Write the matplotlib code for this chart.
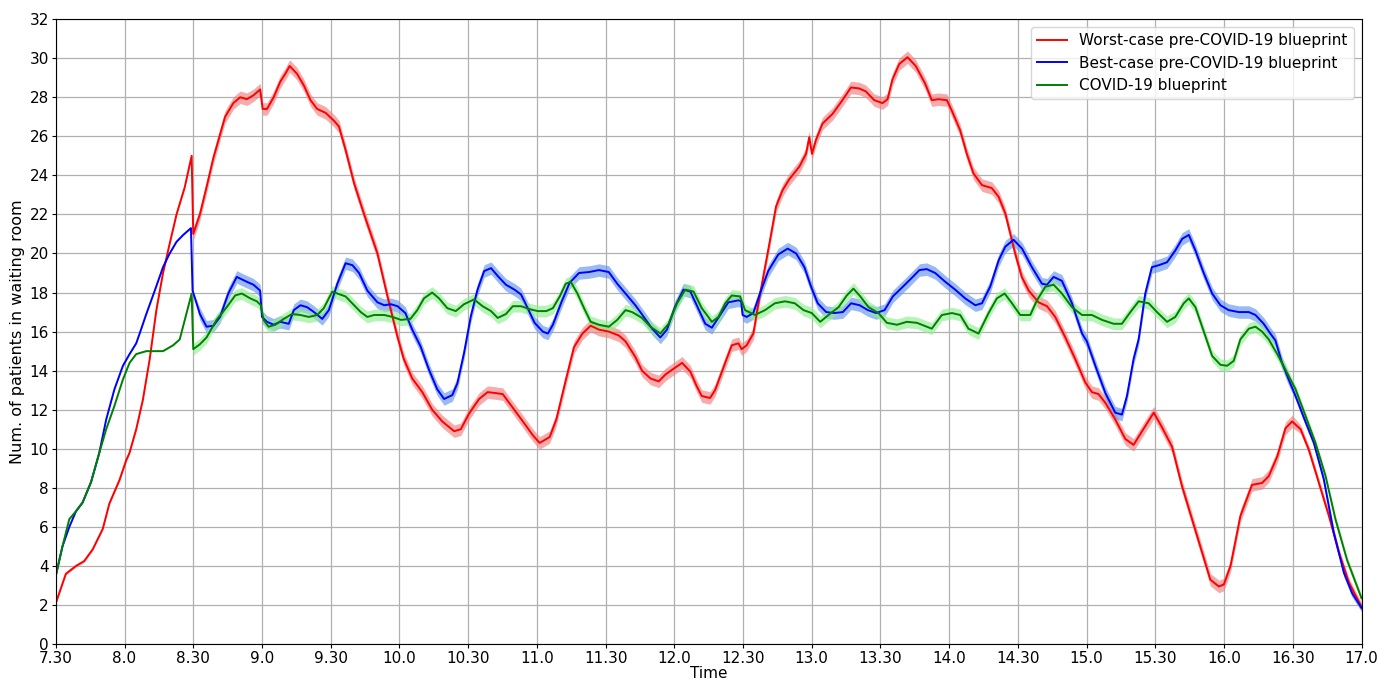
import numpy as np
import matplotlib
matplotlib.use("Agg")
import matplotlib.pyplot as plt

# minutes since 7:30
red_time = [0, 4.4, 8.8, 12.4, 16.1, 20.5, 23.4, 27.8, 30.7, 32.2,
            35.1, 38, 41, 43.9, 46.8, 49.7, 52.7, 56.3, 59.3, 60,
            62.9, 65.8, 68.8, 71.7, 73.9, 77.5, 80.5, 83.4, 86.3, 89.2,
            90.3, 92.2, 95.1, 98, 100.2, 102.1, 105.3, 108.3, 111.2, 114.1,
            117.8, 121.4, 123.6, 126.5, 130.2, 134.6, 140.4, 144.8, 149, 151.9,
            155.6, 160, 164.3, 168.7, 173.9, 176.8, 180.4, 184.8, 188.5, 192.1,
            195.1, 199.5, 203.9, 208.2, 211.2, 215.6, 218.5, 222.6, 226.2, 229.9,
            233.5, 237.1, 241.4, 245.8, 248.7, 253, 255.9, 259.6, 263.2, 266.1,
            269.7, 273.4, 277, 279.8, 282, 285.6, 287.8, 292.2, 295.1, 298,
            299.4, 301.6, 304.5, 307.4, 311.5, 314.4, 317.3, 320.2, 324.6, 327.5,
            328.9, 330.1, 331.8, 334.7, 339.1, 343.4, 347.1, 350.7, 353.6, 357.3,
            360.9, 363.1, 365.2, 368.2, 371.8, 375.4, 379.5, 382.4, 385.3, 389,
            391.2, 394.8, 397.7, 400.6, 404.3, 408.6, 411.6, 414.5, 416.7, 418.8,
            421.7, 424.7, 429, 432.7, 436.3, 440.7, 445, 449.4, 452.3, 455.2,
            458.2, 462.5, 466.9, 470.5, 474.2, 479.3, 482.9, 487.3, 491.6, 496,
            500.4, 504, 507.7, 509.9, 512.8, 517.1, 522.2, 526.6, 529.5, 533.2,
            536.8, 539.7, 543.4, 547, 551.4, 555.8, 560.1, 564.5, 570]
red_count = [2.1, 3.6, 4.0, 4.25, 4.85, 5.9, 7.2, 8.4, 9.4, 9.8,
             11.0, 12.5, 14.6, 17.1, 19.0, 20.5, 22.0, 23.4, 25.0, 21.0,
             22.0, 23.4, 24.9, 26.1, 27.0, 27.7, 28.0, 27.9, 28.1, 28.4,
             27.4, 27.4, 28.0, 28.8, 29.2, 29.6, 29.2, 28.6, 27.85, 27.4,
             27.2, 26.8, 26.5, 25.3, 23.6, 22.0, 20.0, 17.8, 15.8, 14.6,
             13.6, 12.9, 12.0, 11.4, 10.9, 11.0, 11.8, 12.55, 12.9, 12.85,
             12.8, 12.1, 11.4, 10.7, 10.3, 10.6, 11.5, 13.5, 15.2, 15.9,
             16.3, 16.1, 16.0, 15.8, 15.5, 14.7, 14.0, 13.6, 13.45, 13.8,
             14.1, 14.4, 13.95, 13.2, 12.7, 12.6, 13.0, 14.4, 15.3, 15.4,
             15.1, 15.3, 15.9, 17.9, 20.5, 22.4, 23.25, 23.8, 24.45, 25.1,
             25.95, 25.1, 25.8, 26.65, 27.15, 27.85, 28.5, 28.45, 28.3, 27.85,
             27.7, 27.9, 28.9, 29.7, 30.05, 29.6, 28.7, 27.85, 27.9, 27.85,
             27.3, 26.3, 25.1, 24.1, 23.5, 23.35, 22.9, 22.05, 21.0, 20.0,
             18.8, 18.1, 17.5, 17.3, 16.75, 15.7, 14.6, 13.4, 12.9, 12.8,
             12.35, 11.5, 10.5, 10.2, 10.9, 11.85, 11.1, 10.1, 8.1, 6.4,
             4.7, 3.3, 2.95, 3.05, 4.0, 6.55, 8.15, 8.25, 8.6, 9.6,
             11.05, 11.4, 11.0, 9.95, 8.25, 6.55, 4.7, 3.15, 1.9]

blue_time = [0, 2.9, 5.9, 8.8, 11.7, 15.4, 19, 22, 25.6, 29.3,
             32.2, 35.1, 36.6, 39.5, 43.2, 46.8, 49.7, 52.7, 55.6, 59,
             59.7, 62.9, 65.8, 68.8, 71.7, 75.3, 79, 83.4, 86.3, 89.2,
             90, 92.2, 95.1, 98, 101.7, 103.9, 106.8, 109.7, 112.7, 116.3,
             119.2, 122.9, 126.5, 129.5, 132.4, 136, 140.4, 143.4, 146.3, 149.2,
             152.6, 155.6, 159.2, 162.9, 166.5, 169.5, 173.1, 175.3, 178.2, 181.2,
             184.1, 187, 190, 192.9, 196.5, 200.2, 203.1, 206, 209, 212.6,
             214.8, 217, 220.7, 224.3, 228.4, 232.8, 237.1, 241.4, 245.1, 248.7,
             253, 256.7, 260.3, 263.9, 266.8, 270.4, 274, 277, 279.8, 283.5,
             286.4, 290, 293.6, 298, 299.2, 299.8, 301.6, 304.5, 307.4, 311,
             315.4, 319.5, 323.2, 326.8, 329.7, 332.6, 336.3, 339.9, 343.6, 347.2,
             350.9, 354.5, 358.1, 361.8, 365.4, 369.8, 374.1, 377, 380.2, 383.9,
             388.3, 392.6, 397, 401.4, 404.3, 407.9, 411.6, 414.5, 418.1, 421.8,
             426.1, 430.5, 432.7, 435.6, 439.2, 443.6, 448, 450.1, 453.8, 458.2,
             462.5, 465.4, 467.6, 470.5, 472.7, 475.6, 478.5, 481.5, 485.1, 488.7,
             491.7, 494.6, 497.5, 501.1, 504.8, 508.4, 512, 516.4, 520.8, 523.7,
             527.3, 530.2, 532.4, 535.3, 538.2, 541.2, 544.8, 549.2, 553.5, 557.9,
             562.3, 565.9, 570]
blue_count = [3.5, 5.0, 6.0, 6.8, 7.25, 8.3, 9.8, 11.5, 13.05, 14.25,
              14.85, 15.4, 15.9, 16.9, 18.1, 19.3, 20.0, 20.6, 20.95, 21.3,
              18.1, 16.9, 16.25, 16.3, 16.75, 17.95, 18.8, 18.55, 18.4, 18.1,
              16.75, 16.5, 16.35, 16.5, 16.4, 17.1, 17.35, 17.25, 17.0, 16.65,
              17.1, 18.45, 19.5, 19.4, 19.0, 18.1, 17.5, 17.35, 17.4, 17.3,
              16.95, 16.1, 15.25, 14.05, 13.05, 12.55, 12.75, 13.35, 14.9, 16.8,
              18.15, 19.1, 19.25, 18.85, 18.4, 18.15, 17.9, 17.2, 16.45, 16.0,
              15.9, 16.35, 17.5, 18.5, 19.0, 19.05, 19.15, 19.05, 18.45, 17.95,
              17.35, 16.75, 16.15, 15.7, 16.1, 17.3, 18.15, 18.05, 17.35, 16.4,
              16.2, 16.85, 17.5, 17.6, 17.55, 16.85, 16.75, 16.95, 17.95, 19.1,
              19.95, 20.25, 20.0, 19.3, 18.3, 17.45, 17.0, 16.95, 17.0, 17.45,
              17.35, 17.1, 16.95, 17.1, 17.8, 18.3, 18.8, 19.15, 19.2, 19.0,
              18.55, 18.15, 17.7, 17.35, 17.45, 18.3, 19.65, 20.35, 20.7, 20.25,
              19.3, 18.45, 18.4, 18.8, 18.6, 17.45, 15.9, 15.5, 14.25, 12.85,
              11.85, 11.75, 12.7, 14.6, 15.6, 17.95, 19.3, 19.4, 19.55, 20.15,
              20.75, 20.95, 20.15, 19.0, 17.95, 17.35, 17.1, 17.0, 17.0, 16.85,
              16.4, 15.9, 15.55, 14.4, 13.55, 12.7, 11.6, 10.3, 8.45, 5.7,
              3.65, 2.6, 1.85]

green_time = [0, 2.9, 5.9, 8.8, 11.7, 15.4, 19, 22, 25.6, 29.3,
              32.2, 35.1, 39.5, 46.8, 51.2, 54.1, 57, 59.3, 60, 62.9,
              65.8, 70.2, 74.6, 78.3, 81.2, 84.9, 87.8, 89.5, 90.7, 92.9,
              95.8, 99.5, 103.1, 106.8, 110.5, 114.1, 117, 120.7, 122.9, 126.5,
              130.2, 133.1, 136, 139, 143.4, 147, 150.7, 154.8, 157.8, 160.7,
              164.3, 167.3, 170.9, 174.6, 178.2, 182.6, 186.3, 190, 192.9, 196.5,
              199.5, 203.1, 206.8, 210.4, 214.1, 217, 220, 222.6, 224.8, 227.7,
              230.6, 233.5, 237.1, 241.4, 245.1, 248.7, 251.6, 255.9, 259.6, 263.9,
              267.5, 271.2, 274.8, 278.4, 282, 286.4, 289.3, 292.2, 295.1, 298.7,
              300.9, 305.2, 309.6, 313.9, 318.3, 322.6, 326.4, 330, 333.7, 337.3,
              341.7, 345.3, 348.2, 351.2, 354.8, 359.1, 362.8, 367.2, 371.5, 375.9,
              382.4, 386.8, 391.2, 394.8, 398.4, 402.8, 407.2, 410.8, 414.2, 417.4,
              421, 425.4, 428.3, 432, 435.6, 439.2, 443.6, 448, 452.3, 456.7,
              461.8, 465.4, 469.1, 472.7, 477.1, 480.7, 485.1, 488.7, 492.4, 494.6,
              497.5, 500.4, 502.6, 504.8, 508.4, 511.3, 514.2, 517.1, 520.8, 523.7,
              526.6, 529.5, 533.2, 536.8, 541.2, 545.5, 549.9, 554.3, 558.6, 563.7,
              570]
green_count = [3.5, 5.0, 6.4, 6.8, 7.25, 8.3, 9.8, 11.0, 12.2, 13.55,
               14.4, 14.85, 15.0, 15.0, 15.3, 15.6, 16.9, 17.95, 15.1, 15.35,
               15.7, 16.6, 17.25, 17.85, 17.95, 17.7, 17.55, 17.35, 16.6, 16.25,
               16.35, 16.65, 16.9, 16.85, 16.75, 16.85, 17.2, 18.05, 17.95, 17.8,
               17.35, 17.0, 16.75, 16.85, 16.85, 16.75, 16.6, 16.65, 17.1, 17.7,
               18.0, 17.7, 17.2, 17.05, 17.4, 17.65, 17.3, 17.05, 16.7, 16.9,
               17.3, 17.3, 17.15, 17.05, 17.05, 17.2, 17.8, 18.45, 18.55, 17.95,
               17.2, 16.5, 16.35, 16.25, 16.6, 17.1, 17.0, 16.7, 16.25, 15.9,
               16.4, 17.45, 18.15, 18.05, 17.2, 16.5, 16.75, 17.45, 17.85, 17.8,
               17.1, 16.85, 17.1, 17.45, 17.55, 17.45, 17.1, 16.95, 16.5, 16.85,
               17.25, 17.85, 18.2, 17.8, 17.25, 16.95, 16.45, 16.35, 16.5, 16.45,
               16.15, 16.85, 16.95, 16.85, 16.15, 15.9, 16.95, 17.7, 17.95, 17.45,
               16.85, 16.85, 17.6, 18.3, 18.4, 17.95, 17.25, 16.85, 16.85, 16.6,
               16.4, 16.4, 17.0, 17.55, 17.45, 17.0, 16.5, 16.75, 17.45, 17.7,
               17.25, 16.25, 15.5, 14.75, 14.3, 14.25, 14.5, 15.6, 16.15, 16.25,
               16.0, 15.6, 14.85, 14.05, 13.05, 11.7, 10.3, 8.6, 6.4, 4.3,
               2.35]

# half-width of the shaded band, stepwise by period
band_edges = [60, 540]
red_band = [0.06, 0.32, 0.22]
blue_band = [0.03, 0.32, 0.2]
green_band = [0.03, 0.3, 0.2]

tick_minutes = list(range(0, 571, 30))
tick_labels = ['7.30', '8.0', '8.30', '9.0', '9.30', '10.0', '10.30', '11.0',
               '11.30', '12.0', '12.30', '13.0', '13.30', '14.0', '14.30',
               '15.0', '15.30', '16.0', '16.30', '17.0']

series = [
    (red_time, red_count, red_band, 'red', '#f08080',
     'Worst-case pre-COVID-19 blueprint'),
    (blue_time, blue_count, blue_band, 'blue', '#6495ed',
     'Best-case pre-COVID-19 blueprint'),
    (green_time, green_count, green_band, 'green', '#90ee90',
     'COVID-19 blueprint'),
]

plt.rcParams['font.size'] = 11
fig = plt.figure(figsize=(13.95, 6.83), dpi=100)
ax = fig.add_axes([0.040, 0.057, 0.936, 0.915])

for t, v, band, col, bcol, lab in series:
    t = np.array(t)
    v = np.array(v)
    hw = np.array(band)[np.searchsorted(band_edges, t, side='right')]
    ax.fill_between(t, v - hw, v + hw, color=bcol, alpha=0.65, linewidth=0)
    ax.plot(t, v, color=col, linewidth=1.4, label=lab)

ax.set_xlim(0, 570)
ax.set_ylim(0, 32)
ax.set_xticks(tick_minutes)
ax.set_xticklabels(tick_labels)
ax.set_yticks(range(0, 33, 2))
ax.tick_params(length=3, pad=2)
ax.grid(True, color='#b0b0b0', linewidth=0.9)
ax.set_axisbelow(True)
ax.set_xlabel('Time', labelpad=0)
ax.set_ylabel('Num. of patients in waiting room', fontsize=11.5, labelpad=3)
ax.legend(loc='upper right', fontsize=11)

fig.savefig('out.png', dpi=100)
